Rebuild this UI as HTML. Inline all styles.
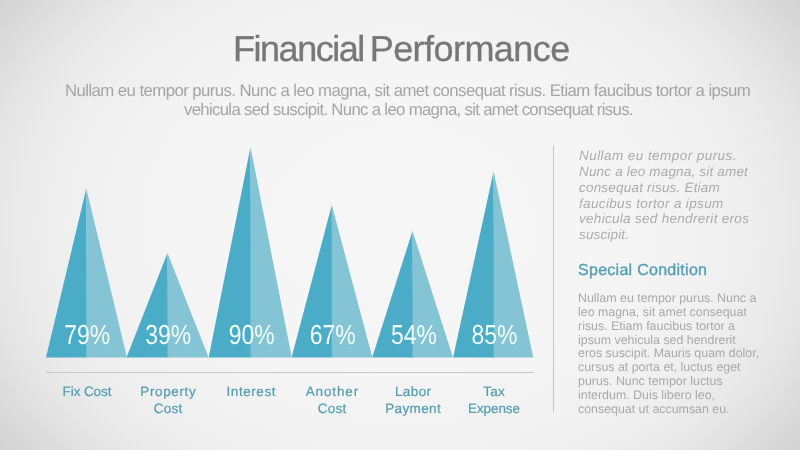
<!DOCTYPE html>
<html>
<head>
<meta charset="utf-8">
<style>
html,body{margin:0;padding:0;}
body{width:800px;height:450px;overflow:hidden;position:relative;
  font-family:"Liberation Sans",sans-serif;text-rendering:geometricPrecision;
  background:radial-gradient(ellipse 495px 381px at 400px 225px, #f6f6f6 0%, #f5f5f5 40%, #f3f3f3 52.5%, #f2f2f2 59%, #eeeeee 71%, #e9e9e9 79%, #e2e2e2 86.6%, #dadada 93.2%, #d3d3d3 100%);}
.abs{position:absolute;white-space:nowrap;}
.abs,.lbl{will-change:transform;}
#title{left:233px;top:28.9px;word-spacing:-2.5px;font-size:36px;line-height:40px;color:#777777;letter-spacing:-1.65px;-webkit-text-stroke:0.35px #777;}
.sub{font-size:16.8px;line-height:18.9px;color:#a5a5a5;}
svg{position:absolute;left:0;top:0;}
.lbl{position:absolute;top:384px;width:100px;text-align:center;font-size:13.5px;line-height:16.5px;color:#529db2;-webkit-text-stroke:0.2px #529db2;}
#vline{position:absolute;left:553px;top:145px;width:1px;height:267px;background:#c6c6c6;}
#hline{position:absolute;left:46px;top:372px;width:488px;height:1px;background:#c8c8c8;}
#ital{left:578.5px;top:147.6px;font-size:13.5px;line-height:15.85px;font-style:italic;color:#acacac;letter-spacing:0.3px;}
#spec{left:577.5px;top:260.9px;font-size:16px;line-height:20px;color:#549eb3;-webkit-text-stroke:0.35px #549eb3;letter-spacing:0.28px;}
#para{left:577.5px;top:291.6px;font-size:12.4px;line-height:13.86px;color:#a9a9a9;}
</style>
</head>
<body>
<div class="abs" id="title"><span style="letter-spacing:-1.47px">Financial</span> <span style="letter-spacing:-0.56px">Performance</span></div>
<div class="abs sub" style="left:65px;top:81.8px;letter-spacing:-0.58px">Nullam eu tempor purus. Nunc a leo magna, sit amet consequat risus. Etiam faucibus tortor a ipsum</div>
<div class="abs sub" style="left:183.5px;top:100.7px;letter-spacing:-0.69px">vehicula sed suscipit. Nunc a leo magna, sit amet consequat risus.</div>

<svg width="800" height="450" viewBox="0 0 800 450">
  <g>
    <polygon points="86.3,188.5 46,357.5 87.3,357.5" fill="#4aacc6"/>
    <polygon points="167.5,253 126.5,357.5 168.5,357.5" fill="#4aacc6"/>
    <polygon points="250.5,147 208.7,357.5 251.5,357.5" fill="#4aacc6"/>
    <polygon points="331.8,205 291.6,357.5 332.8,357.5" fill="#4aacc6"/>
    <polygon points="412.5,231 372.2,357.5 413.5,357.5" fill="#4aacc6"/>
    <polygon points="493.6,171.5 453.1,357.5 494.6,357.5" fill="#4aacc6"/>
    <polygon points="86.3,188.5 86.3,357.5 127,357.5" fill="#84c4d4"/>
    <polygon points="167.5,253 167.5,357.5 208.6,357.5" fill="#84c4d4"/>
    <polygon points="250.5,147 250.5,357.5 291.8,357.5" fill="#84c4d4"/>
    <polygon points="331.8,205 331.8,357.5 372.4,357.5" fill="#84c4d4"/>
    <polygon points="412.5,231 412.5,357.5 453,357.5" fill="#84c4d4"/>
    <polygon points="493.6,171.5 493.6,357.5 533.3,357.5" fill="#84c4d4"/>
  </g>
  <g font-family="Liberation Sans" font-size="27.5" fill="#f2fdff" text-anchor="middle">
    <text x="87.2" y="344" textLength="46" lengthAdjust="spacingAndGlyphs">79%</text>
    <text x="168.25" y="344" textLength="46" lengthAdjust="spacingAndGlyphs">39%</text>
    <text x="251.75" y="344" textLength="46" lengthAdjust="spacingAndGlyphs">90%</text>
    <text x="332.75" y="344" textLength="46" lengthAdjust="spacingAndGlyphs">67%</text>
    <text x="414" y="344" textLength="46" lengthAdjust="spacingAndGlyphs">54%</text>
    <text x="494.5" y="344" textLength="46" lengthAdjust="spacingAndGlyphs">85%</text>
  </g>
</svg>


<div id="hline"></div>
<div id="vline"></div>

<div class="lbl" style="left:36.6px"><span style="letter-spacing:-0.1px;margin-right:0.1px">Fix Cost</span></div>
<div class="lbl" style="left:117.8px"><span style="letter-spacing:0.64px;margin-right:-0.64px">Property</span><br><span style="letter-spacing:0.23px;margin-right:-0.23px">Cost</span></div>
<div class="lbl" style="left:201.0px"><span style="letter-spacing:0.57px;margin-right:-0.57px">Interest</span></div>
<div class="lbl" style="left:281.5px"><span style="letter-spacing:0.87px;margin-right:-0.87px">Another</span><br><span style="letter-spacing:0.23px;margin-right:-0.23px">Cost</span></div>
<div class="lbl" style="left:363.0px"><span style="letter-spacing:0.42px;margin-right:-0.42px">Labor</span><br><span style="letter-spacing:0.37px;margin-right:-0.37px">Payment</span></div>
<div class="lbl" style="left:443.6px"><span style="letter-spacing:0.25px;margin-right:-0.25px">Tax</span><br><span style="letter-spacing:-0.12px;margin-right:0.12px">Expense</span></div>


<div class="abs" id="ital"><span style="letter-spacing:0.44px">Nullam eu tempor purus.</span><br><span style="letter-spacing:0.18px">Nunc a leo magna, sit amet</span><br><span style="letter-spacing:0.2px">consequat risus. Etiam</span><br><span style="letter-spacing:0.35px">faucibus tortor a ipsum</span><br><span style="letter-spacing:0.3px">vehicula sed hendrerit eros</span><br><span style="letter-spacing:0.15px">suscipit.</span></div>
<div class="abs" id="spec">Special Condition</div>
<div class="abs" id="para">Nullam eu tempor purus. Nunc a<br>leo magna, sit amet consequat<br>risus. Etiam faucibus tortor a<br>ipsum vehicula sed hendrerit<br>eros suscipit. Mauris quam dolor,<br>cursus at porta et, luctus eget<br>purus. Nunc tempor luctus<br>interdum. Duis libero leo,<br>consequat ut accumsan eu.</div>
</body>
</html>
